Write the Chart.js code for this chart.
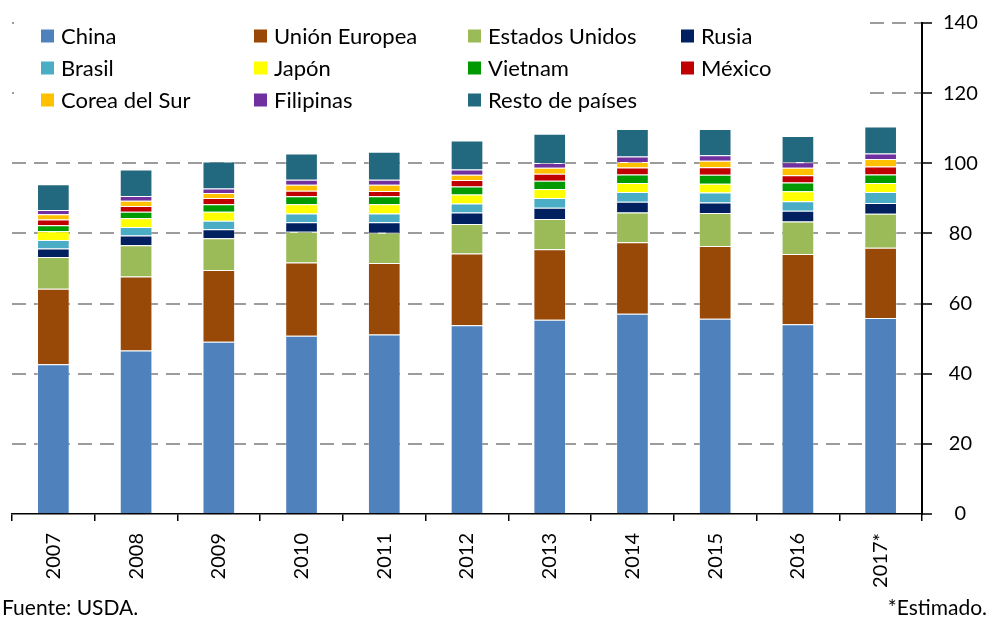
<!DOCTYPE html>
<html lang="es">
<head>
<meta charset="utf-8">
<title>Producción de carne de cerdo</title>
<script src="https://cdn.jsdelivr.net/npm/chart.js@4.4.1/dist/chart.umd.min.js"></script>
<style>
  html, body { margin: 0; padding: 0; background: #fff; }
  #wrap { width: 989px; height: 625px; position: relative; }
</style>
</head>
<body>
<div id="wrap"><canvas id="pigChart" width="989" height="625"></canvas></div>
<script>
const years = ["2007", "2008", "2009", "2010", "2011", "2012", "2013", "2014", "2015", "2016", "2017*"];

const china     = [42.7, 46.6, 49.1, 50.8, 51.2, 53.8, 55.4, 57.1, 55.7, 54.1, 55.9];
const ue        = [21.5, 21.1, 20.5, 20.9, 20.4, 20.5, 20.1, 20.4, 20.7, 20.0, 20.0];
const eeuu      = [9.1, 8.9, 9.0, 8.8, 8.6, 8.4, 8.6, 8.5, 9.4, 9.3, 9.7];
const rusia     = [2.4, 2.8, 2.6, 2.7, 3.0, 3.3, 3.2, 3.0, 3.0, 3.1, 3.1];
const brasil    = [2.4, 2.4, 2.4, 2.5, 2.5, 2.5, 2.8, 2.8, 2.9, 2.7, 3.1];
const japon     = [2.5, 2.5, 2.6, 2.6, 2.6, 2.6, 2.6, 2.6, 2.5, 2.8, 2.6];
const vietnam   = [1.7, 1.9, 2.1, 2.3, 2.3, 2.3, 2.3, 2.4, 2.5, 2.5, 2.4];
const mexico    = [1.7, 1.6, 1.8, 1.6, 1.5, 1.8, 2.0, 2.0, 2.2, 2.1, 2.3];
const corea     = [1.5, 1.5, 1.4, 1.7, 1.8, 1.5, 1.7, 1.6, 1.8, 2.1, 2.1];
const filipinas = [1.2, 1.4, 1.3, 1.4, 1.4, 1.5, 1.4, 1.5, 1.6, 1.6, 1.6];
const resto     = [7.3, 7.5, 7.7, 7.5, 8.0, 8.3, 8.3, 7.9, 7.5, 7.5, 7.7];

const yTicks = [0, 20, 40, 60, 80, 100, 120, 140];

const FONT = "Lato, 'Open Sans', sans-serif";

function makeSet(label, data, color) {
  return {
    label: label,
    data: data,
    backgroundColor: color,
    borderColor: "rgba(255,255,255,0.35)",
    borderWidth: 1,
    barPercentage: 0.395,
    categoryPercentage: 1.0
  };
}

// legend drawn in a 4-column grid on a white box, like the original
const gridLegend = {
  id: "gridLegend",
  afterDraw(chart) {
    const ctx = chart.ctx;
    ctx.save();
    ctx.fillStyle = "#fff";
    ctx.fillRect(14, 20, 855, 98);
    const colX = [41, 254, 468, 681];
    const rowY = [36, 68, 100];
    ctx.font = "22px " + FONT;
    ctx.textBaseline = "middle";
    chart.data.datasets.forEach((ds, i) => {
      const x = colX[i % 4];
      const y = rowY[Math.floor(i / 4)];
      ctx.fillStyle = ds.backgroundColor;
      ctx.fillRect(x, y - 6.5, 13, 13);
      ctx.fillStyle = "#000";
      ctx.fillText(ds.label, x + 20, y + 1);
    });
    // footer notes
    ctx.font = "21px " + FONT;
    ctx.textBaseline = "alphabetic";
    ctx.textAlign = "left";
    ctx.fillText("Fuente: USDA.", 2, 615);
    ctx.textAlign = "right";
    ctx.fillText("*Estimado.", 987, 615);
    ctx.restore();
  }
};

document.addEventListener("DOMContentLoaded", function () {
  const datasets = [
    makeSet("China", china, "#4F81BD"),
    makeSet("Unión Europea", ue, "#984807"),
    makeSet("Estados Unidos", eeuu, "#9BBB59"),
    makeSet("Rusia", rusia, "#002060"),
    makeSet("Brasil", brasil, "#4BACC6"),
    makeSet("Japón", japon, "#FFFF00"),
    makeSet("Vietnam", vietnam, "#009A00"),
    makeSet("México", mexico, "#C00000"),
    makeSet("Corea del Sur", corea, "#FFC000"),
    makeSet("Filipinas", filipinas, "#7030A0"),
    makeSet("Resto de países", resto, "#22687E")
  ];

  new Chart(document.getElementById("pigChart"), {
    type: "bar",
    data: { labels: years, datasets: datasets },
    options: {
      responsive: false,
      animation: false,
      layout: { padding: { left: 12, right: 0, top: 15, bottom: 0 } },
      plugins: { legend: { display: false }, tooltip: { enabled: false } },
      scales: {
        x: {
          stacked: true,
          grid: {
            offset: true,
            drawOnChartArea: false,
            drawTicks: true,
            tickLength: 7,
            color: "#000",
            lineWidth: 1.5
          },
          border: { display: true, color: "#000", width: 1.5 },
          ticks: {
            minRotation: 90,
            maxRotation: 90,
            padding: 12,
            color: "#000",
            font: { family: FONT, size: 20 }
          },
          afterFit: function (scale) { scale.height = 111; }
        },
        y: {
          stacked: true,
          position: "right",
          min: 0,
          max: 140,
          afterBuildTicks: function (scale) {
            scale.ticks = yTicks.map(v => ({ value: v }));
          },
          grid: {
            color: function (c) { return c.tick && c.tick.value === 0 ? "rgba(0,0,0,0)" : "#9C9C9C"; },
            lineWidth: 2,
            tickColor: "#000",
            tickLength: 10,
            tickWidth: 1.5
          },
          border: { display: true, color: "#000", width: 2, dash: [14, 8] },
          ticks: {
            padding: 11,
            crossAlign: "center",
            color: "#000",
            font: { family: FONT, size: 20 }
          },
          afterFit: function (scale) { scale.width = 67; }
        }
      }
    },
    plugins: [gridLegend]
  });
});
</script>
</body>
</html>
